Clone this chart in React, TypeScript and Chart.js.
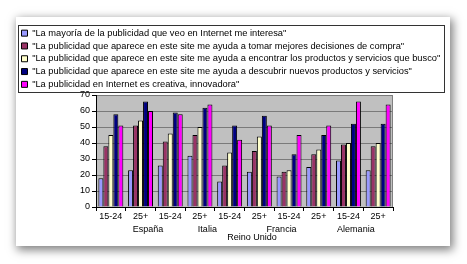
import React, { useEffect, useRef } from 'react';
import { Chart, registerables } from 'chart.js';

Chart.register(...registerables);

// ---- data ----
const ageGroups = ['15-24', '25+', '15-24', '25+', '15-24', '25+', '15-24', '25+', '15-24', '25+'];
// second-level labels (half-category slots under the age groups)
const countrySlotLabels: (string | string[])[] = [
  '', '', '', 'España', '', '', '', 'Italia', '', '',
  ['', 'Reino Unido'], '', 'Francia', '', '', '', '', 'Alemania', '', '',
];
const seriesNames = [
  '"La mayoría de la publicidad que veo en Internet me interesa"',
  '"La publicidad que aparece en este site me ayuda a tomar mejores decisiones de compra"',
  '"La publicidad que aparece en este site me ayuda a encontrar los productos y servicios que busco"',
  '"La publicidad que aparece en este site me ayuda a descubrir nuevos productos y servicios"',
  '"La publicidad en Internet es creativa, innovadora"',
];
const interesa = [18, 23, 26, 32, 16, 22, 19, 25, 29, 23];
const decisiones = [38, 51, 41, 45, 26, 35, 22, 33, 39, 38];
const encontrar = [45, 54, 46, 50, 34, 44, 23, 36, 40, 40];
const descubrir = [58, 66, 59, 62, 51, 57, 33, 45, 52, 52];
const creativa = [51, 60, 58, 64, 42, 51, 45, 51, 66, 64];
const yMin = 0;
const yMax = 70;
const yStep = 10;

const seriesValues = [interesa, decisiones, encontrar, descubrir, creativa];
const seriesColors = ['#9999FF', '#993366', '#FFFFCC', '#000080', '#FF00FF'];

const FONT = 'Liberation Sans, Arial, Helvetica, sans-serif';

const decor = {
  id: 'decor',
  beforeDraw(chart: any) {
    const { ctx, chartArea: a } = chart;
    ctx.save();
    ctx.fillStyle = '#C0C0C0';
    ctx.fillRect(a.left, a.top, a.right - a.left, a.bottom - a.top);
    ctx.restore();
  },
  beforeDatasetsDraw(chart: any) {
    const { ctx, chartArea: a } = chart;
    ctx.save();
    ctx.strokeStyle = '#808080';
    ctx.lineWidth = 1;
    ctx.beginPath();
    ctx.moveTo(Math.round(a.right) - 0.5, a.top);
    ctx.lineTo(Math.round(a.right) - 0.5, a.bottom);
    ctx.stroke();
    ctx.restore();
  },
  afterDraw(chart: any) {
    const { ctx } = chart;
    const lg = chart.legend;
    if (!lg) return;
    ctx.save();
    ctx.strokeStyle = '#333';
    ctx.lineWidth = 1;
    const l = Math.round(lg.left) + 0.5;
    const t = Math.round(lg.top) + 0.5;
    const r = Math.round(lg.right) - 0.5;
    const b = Math.round(lg.bottom) - 2.5;
    ctx.strokeRect(l, t, r - l, b - t);
    ctx.restore();
  },
};

export default function App() {
  const ref = useRef<HTMLCanvasElement>(null);

  useEffect(() => {
    const chart = new Chart(ref.current as HTMLCanvasElement, {
      type: 'bar',
      data: {
        labels: ageGroups,
        datasets: seriesNames.map((name, i) => ({
          label: name,
          data: seriesValues[i],
          backgroundColor: seriesColors[i],
          borderColor: '#000',
          borderWidth: 1,
          categoryPercentage: 0.84,
          barPercentage: 1,
          xAxisID: 'x',
          yAxisID: 'y',
        })),
      },
      options: {
        responsive: false,
        animation: false,
        layout: { padding: { left: 2, right: 5, top: 8, bottom: 0 } },
        plugins: {
          legend: {
            position: 'top',
            align: 'start',
            maxHeight: 70,
            labels: {
              boxWidth: 6,
              boxHeight: 6,
              padding: 3.5,
              color: '#000',
              font: { family: FONT, size: 9.3 },
            },
          },
          tooltip: { enabled: false },
        },
        scales: {
          x: {
            type: 'category',
            position: 'bottom',
            weight: 0,
            offset: true,
            grid: {
              display: true,
              offset: true,
              drawOnChartArea: false,
              drawTicks: true,
              tickLength: 4,
              tickColor: '#000',
            },
            border: { display: true, color: '#000' },
            ticks: {
              color: '#000',
              font: { family: FONT, size: 9 },
              padding: 0,
              maxRotation: 0,
              autoSkip: false,
            },
            afterFit: (s: any) => { s.height = 14; },
          },
          x2: {
            type: 'category',
            position: 'bottom',
            weight: 1,
            labels: countrySlotLabels as any,
            offset: true,
            grid: { display: false, drawTicks: false },
            border: { display: false },
            ticks: {
              color: '#000',
              font: { family: FONT, size: 9, lineHeight: 0.9 },
              padding: 4,
              maxRotation: 0,
              autoSkip: false,
            },
            afterFit: (s: any) => { s.height = 25; },
          },
          y: {
            type: 'linear',
            position: 'left',
            min: yMin,
            max: yMax,
            ticks: {
              stepSize: yStep,
              color: '#000',
              font: { family: FONT, size: 9 },
              padding: 2,
            },
            grid: {
              color: '#7a7a7a',
              tickColor: '#000',
              tickLength: 4,
              drawTicks: true,
            },
            border: { display: true, color: '#000' },
            afterFit: (s: any) => { s.width = 78; },
          },
          y2: {
            type: 'linear',
            position: 'right',
            display: true,
            grid: { display: false, drawTicks: false },
            border: { display: false },
            ticks: { display: false },
            afterFit: (s: any) => { s.width = 52; },
          },
        },
      },
      plugins: [decor],
    } as any);
    return () => chart.destroy();
  }, []);

  return (
    <div style={{ position: 'fixed', left: 0, top: 0, width: 467, height: 264, background: '#fff' }}>
      <div
        style={{
          position: 'absolute',
          left: 16,
          top: 17,
          width: 434,
          height: 229,
          background: '#fff',
          boxShadow: '2px 3px 9px 1px rgba(0,0,0,0.5)',
        }}
      >
        <canvas ref={ref} width={434} height={229} style={{ display: 'block' }} />
      </div>
    </div>
  );
}
